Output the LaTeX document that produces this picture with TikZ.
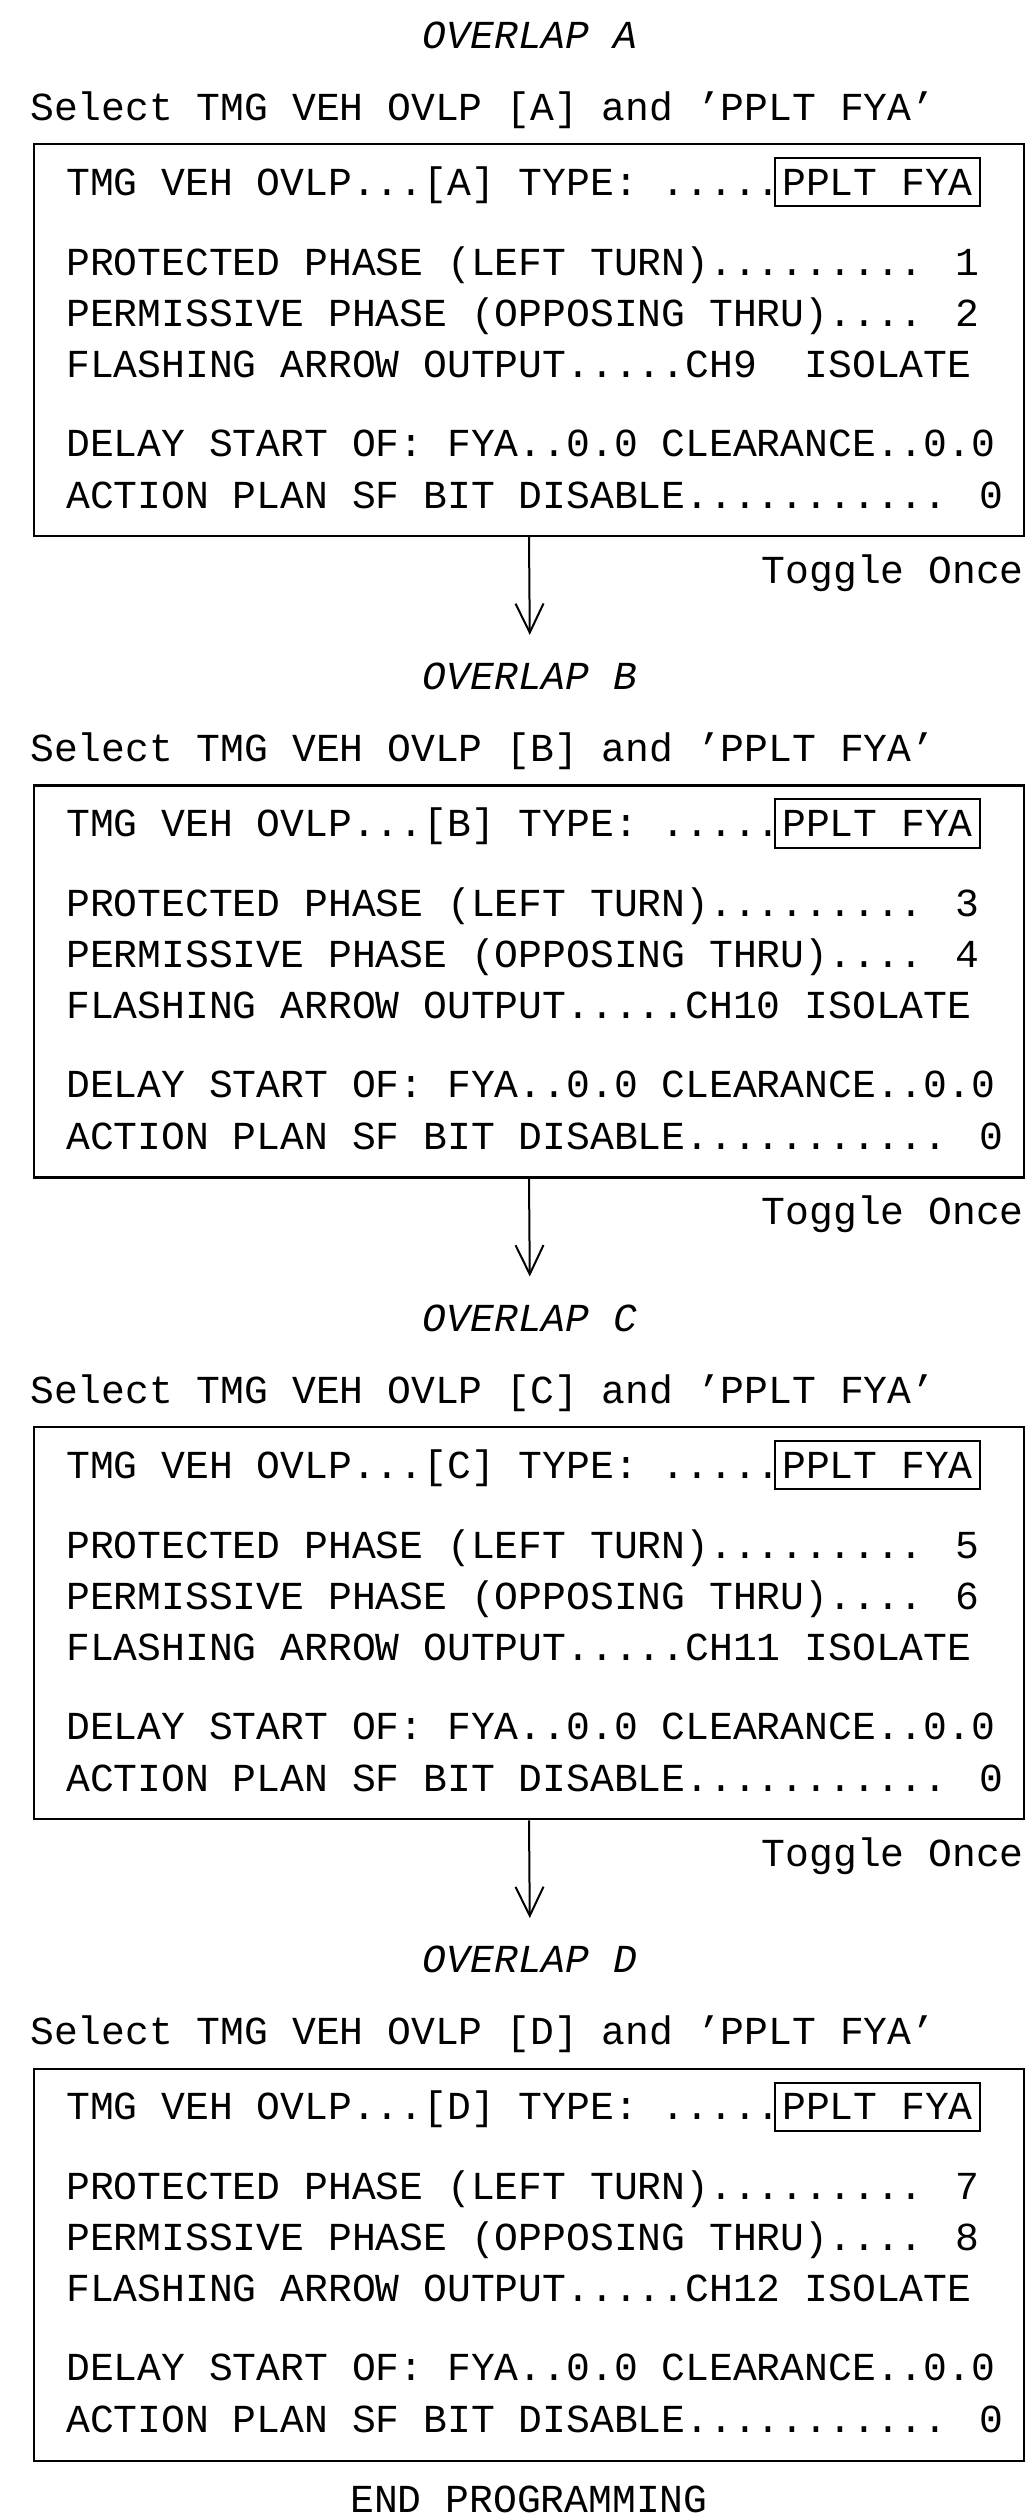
\documentclass[tikz,border=0pt]{standalone}
\usepackage{fontspec}
\usepackage{tikz}
\usetikzlibrary{arrows.meta}
\newfontfamily\cadfont{Liberation Mono}
\newcommand{\cadsize}{\fontsize{39.7pt}{48pt}\selectfont}
\tikzset{
  panel/.style={rectangle, draw, line width=2.4pt,
    minimum width=990pt, minimum height=392pt, inner sep=0pt},
  txt/.style={anchor=base west, inner sep=0pt, font=\cadfont\cadsize},
  rtxt/.style={anchor=base east, inner sep=0pt, font=\cadfont\cadsize},
  title/.style={anchor=base, inner sep=0pt, font=\cadfont\cadsize\itshape},
  typebox/.style={draw, line width=2pt, anchor=base,
    inner xsep=7.5pt, inner ysep=11pt, font=\cadfont\cadsize},
  flow/.style={-{Straight Barb[length=29pt, width=28pt]}, line width=2pt, shorten >=28pt}
}
\begin{document}
\begin{tikzpicture}[x=1pt, y=-1pt]
  \useasboundingbox (0,0) rectangle (1033,2517);

  % Overlap A
  \node[title] (titleA) at (530,48) {OVERLAP A};
  \node[txt] (selA) at (30,120) {Select TMG VEH OVLP [A] and ’PPLT FYA’};
  \node[panel] (panelA) at (529,340) {};
  \node[txt] (typeA) at (66,195) {TMG VEH OVLP...[A] TYPE: .....};
  \node[typebox] (pplA) at (877.5,195) {PPLT FYA};
  \node[txt] (protA) at (66,275) {PROTECTED PHASE (LEFT TURN)......... 1};
  \node[txt] (permA) at (66,326) {PERMISSIVE PHASE (OPPOSING THRU).... 2};
  \node[txt] (fyaA) at (66,377) {FLASHING ARROW OUTPUT.....CH9\ \ ISOLATE};
  \node[txt] (delA) at (66,456) {DELAY START OF: FYA..0.0 CLEARANCE..0.0};
  \node[txt] (actA) at (66,508) {ACTION PLAN SF BIT DISABLE........... 0};
  \node[rtxt] (togA) at (1024,583) {Toggle Once};

  % Overlap B
  \node[title] (titleB) at (530,689.6) {OVERLAP B};
  \node[txt] (selB) at (30,761.6) {Select TMG VEH OVLP [B] and ’PPLT FYA’};
  \node[panel] (panelB) at (529,981.6) {};
  \node[txt] (typeB) at (66,836.6) {TMG VEH OVLP...[B] TYPE: .....};
  \node[typebox] (pplB) at (877.5,836.6) {PPLT FYA};
  \node[txt] (protB) at (66,916.6) {PROTECTED PHASE (LEFT TURN)......... 3};
  \node[txt] (permB) at (66,967.6) {PERMISSIVE PHASE (OPPOSING THRU).... 4};
  \node[txt] (fyaB) at (66,1018.6) {FLASHING ARROW OUTPUT.....CH10 ISOLATE};
  \node[txt] (delB) at (66,1097.6) {DELAY START OF: FYA..0.0 CLEARANCE..0.0};
  \node[txt] (actB) at (66,1149.6) {ACTION PLAN SF BIT DISABLE........... 0};
  \node[rtxt] (togB) at (1024,1224.6) {Toggle Once};

  % Overlap C
  \node[title] (titleC) at (530,1331.2) {OVERLAP C};
  \node[txt] (selC) at (30,1403.2) {Select TMG VEH OVLP [C] and ’PPLT FYA’};
  \node[panel] (panelC) at (529,1623.2) {};
  \node[txt] (typeC) at (66,1478.2) {TMG VEH OVLP...[C] TYPE: .....};
  \node[typebox] (pplC) at (877.5,1478.2) {PPLT FYA};
  \node[txt] (protC) at (66,1558.2) {PROTECTED PHASE (LEFT TURN)......... 5};
  \node[txt] (permC) at (66,1609.2) {PERMISSIVE PHASE (OPPOSING THRU).... 6};
  \node[txt] (fyaC) at (66,1660.2) {FLASHING ARROW OUTPUT.....CH11 ISOLATE};
  \node[txt] (delC) at (66,1739.2) {DELAY START OF: FYA..0.0 CLEARANCE..0.0};
  \node[txt] (actC) at (66,1791.2) {ACTION PLAN SF BIT DISABLE........... 0};
  \node[rtxt] (togC) at (1024,1866.2) {Toggle Once};

  % Overlap D
  \node[title] (titleD) at (530,1972.8) {OVERLAP D};
  \node[txt] (selD) at (30,2044.8) {Select TMG VEH OVLP [D] and ’PPLT FYA’};
  \node[panel] (panelD) at (529,2264.8) {};
  \node[txt] (typeD) at (66,2119.8) {TMG VEH OVLP...[D] TYPE: .....};
  \node[typebox] (pplD) at (877.5,2119.8) {PPLT FYA};
  \node[txt] (protD) at (66,2199.8) {PROTECTED PHASE (LEFT TURN)......... 7};
  \node[txt] (permD) at (66,2250.8) {PERMISSIVE PHASE (OPPOSING THRU).... 8};
  \node[txt] (fyaD) at (66,2301.8) {FLASHING ARROW OUTPUT.....CH12 ISOLATE};
  \node[txt] (delD) at (66,2380.8) {DELAY START OF: FYA..0.0 CLEARANCE..0.0};
  \node[txt] (actD) at (66,2432.8) {ACTION PLAN SF BIT DISABLE........... 0};

  \node[anchor=base, inner sep=0pt, font=\cadfont\cadsize] (endprog) at (529,2512) {END PROGRAMMING};

  % Flow between overlaps
  \draw[flow] (panelA.south) -- (titleB.north);
  \draw[flow] (panelB.south) -- (titleC.north);
  \draw[flow] (panelC.south) -- (titleD.north);
\end{tikzpicture}
\end{document}
